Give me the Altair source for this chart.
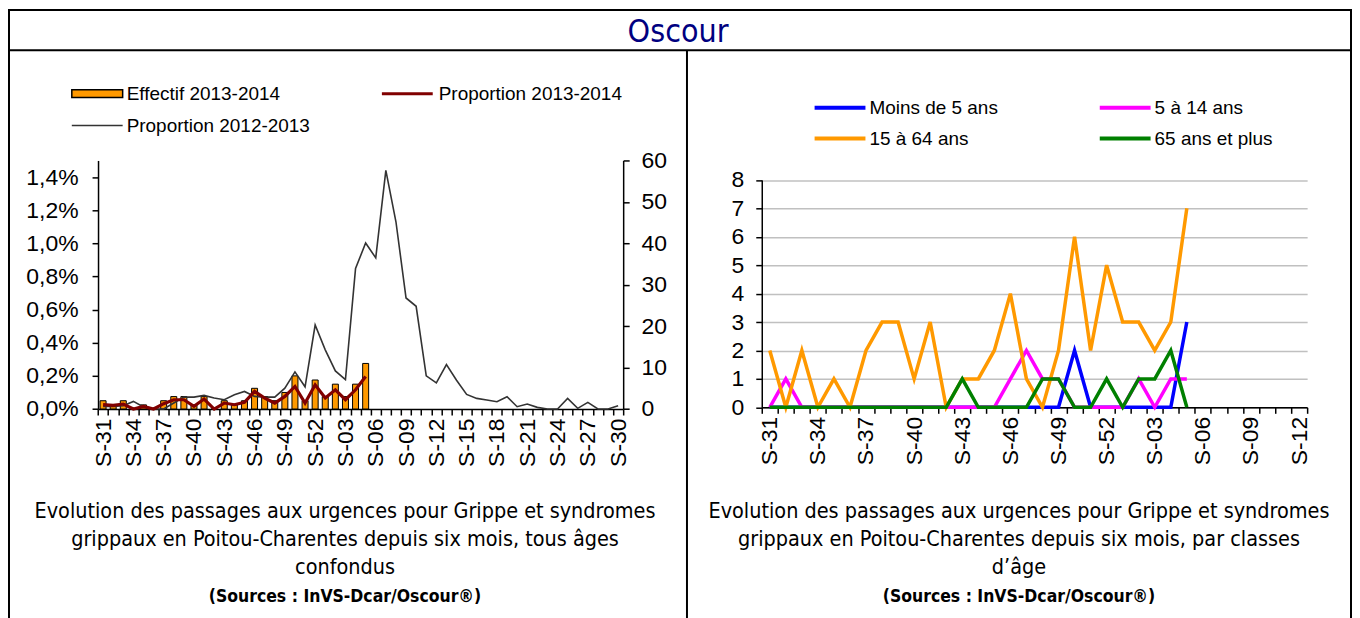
import json
import altair as alt
import pandas as pd

# ---------------- data ----------------
weeks_left = ["S-%02d" % w for w in list(range(31, 53)) + list(range(1, 31))]
weeks_right = ["S-%02d" % w for w in list(range(31, 53)) + list(range(1, 13))]
tick_labels_left = weeks_left[::3]
tick_labels_right = weeks_right[::3]

effectif_2013_2014 = [2, 1, 2, 0, 1, 0, 2, 3, 3, 1, 3, 0, 2, 1, 2, 5, 3, 2, 4, 8, 2, 7, 3, 6, 3, 6, 11]
# proportions in percent
proportion_2013_2014 = [0.026, 0.022, 0.03, 0.0, 0.016, 0.0, 0.032, 0.056, 0.056, 0.016, 0.06, 0.0, 0.036,
                        0.026, 0.04, 0.106, 0.066, 0.036, 0.076, 0.136, 0.036, 0.146, 0.066, 0.116, 0.056,
                        0.116, 0.196]
proportion_2012_2013 = [0.016, 0.016, 0.02, 0.046, 0.012, 0.0, 0.0, 0.036, 0.072, 0.072,
                        0.082, 0.066, 0.056, 0.086, 0.106, 0.076, 0.072, 0.072, 0.126, 0.224,
                        0.134, 0.507, 0.357, 0.23, 0.178, 0.848, 1.002, 0.912, 1.44, 1.13,
                        0.67, 0.62, 0.2, 0.158, 0.268, 0.174, 0.088, 0.064, 0.054, 0.044,
                        0.074, 0.014, 0.03, 0.01, 0.0, 0.0, 0.064, 0.004, 0.04, 0.0,
                        0.0, 0.02]

age_classes = ["Moins de 5 ans", "5 à 14 ans", "15 à 64 ans", "65 ans et plus"]
age_colors = ["#0000FF", "#FF00FF", "#FF9900", "#008000"]
moins_5_ans = [0, 0, 0, 0, 0, 0, 0, 0, 0, 0, 0, 0, 0, 0, 0, 0, 0, 0, 0, 2, 0, 0, 0, 0, 0, 0, 3]
de_5_a_14_ans = [0, 1, 0, 0, 0, 0, 0, 0, 0, 0, 0, 0, 0, 0, 0, 1, 2, 1, 1, 0, 0, 0, 0, 1, 0, 1, 1]
de_15_a_64_ans = [2, 0, 2, 0, 1, 0, 2, 3, 3, 1, 3, 0, 1, 1, 2, 4, 1, 0, 2, 6, 2, 5, 3, 3, 2, 3, 7]
plus_65_ans = [0, 0, 0, 0, 0, 0, 0, 0, 0, 0, 0, 0, 1, 0, 0, 0, 0, 1, 1, 0, 0, 1, 0, 1, 1, 2, 0]

pct_ticks = [0, 0.002, 0.004, 0.006, 0.008, 0.010, 0.012, 0.014]
count_ticks = [0, 10, 20, 30, 40, 50, 60]
age_ticks = [0, 1, 2, 3, 4, 5, 6, 7, 8]

title_text = "Oscour"
caption_left = ["Evolution des passages aux urgences pour Grippe et syndromes",
                "grippaux  en Poitou-Charentes depuis six mois, tous âges",
                "confondus"]
caption_right = ["Evolution des passages aux urgences pour Grippe et syndromes",
                 "grippaux  en Poitou-Charentes depuis six mois, par classes",
                 "d\u2019âge"]
sources = "(Sources : InVS-Dcar/Oscour\u00ae)"

# ---------------- tables ----------------
n = len(effectif_2013_2014)
df_bar = pd.DataFrame({"semaine": weeks_left[:n], "valeur": effectif_2013_2014,
                       "serie": "Effectif 2013-2014"})
df_red = pd.DataFrame({"semaine": weeks_left[:n], "valeur": [v / 100 for v in proportion_2013_2014],
                       "serie": "Proportion 2013-2014"})
df_gray = pd.DataFrame({"semaine": weeks_left, "valeur": [v / 100 for v in proportion_2012_2013],
                        "serie": "Proportion 2012-2013"})
frames = []
for name, vals in zip(age_classes, [moins_5_ans, de_5_a_14_ans, de_15_a_64_ans, plus_65_ans]):
    frames.append(pd.DataFrame({"semaine": weeks_right[:len(vals)], "valeur": vals, "classe": name}))
df_age = pd.concat(frames, ignore_index=True)

# ---------------- layout ----------------
W, H = 1348, 610
AX_FONT = "Liberation Sans, Arial, sans-serif"
COND_FONT = "DejaVu Sans Condensed, Liberation Sans Narrow, Roboto, sans-serif"
XL = [90.3, 617]
YL = [401.3, 152]
XR = [756, 1303]
YR = [399.6, 171.5]


def label_expr(ticks):
    return "indexof(%s, datum.value) >= 0 ? datum.value : ''" % json.dumps(ticks)


def xscale(domain, rng):
    return alt.Scale(type="band", domain=domain, range=rng, paddingInner=0, paddingOuter=0)


x_axis_left = alt.Axis(orient="bottom", offset=YL[0] - H, labelAngle=270, labelExpr=label_expr(tick_labels_left),
                       labelOverlap=False, tickBand="extent", tickSize=6, labelPadding=3, title=None, grid=False)
x_axis_right = alt.Axis(orient="bottom", offset=YR[0] - H, labelAngle=270, labelExpr=label_expr(tick_labels_right),
                        labelOverlap=False, tickBand="extent", tickSize=6, labelPadding=3, title=None, grid=False)

bars = alt.Chart(df_bar).mark_bar(size=6, stroke="black", strokeWidth=1).encode(
    x=alt.X("semaine:N", scale=xscale(weeks_left, XL), axis=x_axis_left),
    y=alt.Y("valeur:Q", scale=alt.Scale(domain=[0, 60], range=YL),
            axis=alt.Axis(orient="right", offset=XL[1] - W, values=count_ticks, tickSize=6,
                          labelPadding=12, title=None, grid=False)),
    color=alt.Color("serie:N", scale=alt.Scale(domain=["Effectif 2013-2014"], range=["#FF9900"]),
                    legend=alt.Legend(title=None, orient="none", legendX=80, legendY=75.5,
                                      symbolType="M-3,-0.45H3V0.45H-3Z", symbolSize=289,
                                      symbolStrokeWidth=1.5, symbolStrokeColor="black",
                                      labelOffset=20, labelLimit=400, padding=0)),
)

gray = alt.Chart(df_gray).mark_line(strokeWidth=1.6).encode(
    x=alt.X("semaine:N", scale=xscale(weeks_left, XL), axis=None, bandPosition=0.5),
    y=alt.Y("valeur:Q", scale=alt.Scale(domain=[0, 0.015], range=YL), axis=None),
    color=alt.Color("serie:N", scale=alt.Scale(domain=["Proportion 2012-2013"], range=["#333333"]),
                    legend=alt.Legend(title=None, orient="none", legendX=80, legendY=107.5,
                                      symbolType="M-3,0H3", symbolSize=289, symbolStrokeWidth=1.5,
                                      labelOffset=20, labelLimit=400, padding=0)),
)

red = alt.Chart(df_red).mark_line(strokeWidth=3.2).encode(
    x=alt.X("semaine:N", scale=xscale(weeks_left, XL), axis=None, bandPosition=0.5),
    y=alt.Y("valeur:Q", scale=alt.Scale(domain=[0, 0.015], range=YL),
            axis=alt.Axis(orient="left", offset=-XL[0], values=pct_ticks, tickSize=6, labelPadding=14,
                          labelExpr="replace(format(datum.value, '.1%'), '.', ',')", title=None,
                          grid=False)),
    color=alt.Color("serie:N", scale=alt.Scale(domain=["Proportion 2013-2014"], range=["#800000"]),
                    legend=alt.Legend(title=None, orient="none", legendX=390.5, legendY=75,
                                      symbolType="M-3,0H3", symbolSize=289, symbolStrokeWidth=3,
                                      labelOffset=21.5, labelLimit=400, padding=0)),
)

ages = alt.Chart(df_age).mark_line(strokeWidth=3.5).encode(
    x=alt.X("semaine:N", scale=xscale(weeks_right, XR), axis=x_axis_right, bandPosition=0.5),
    y=alt.Y("valeur:Q", scale=alt.Scale(domain=[0, 8], range=YR),
            axis=alt.Axis(orient="left", offset=-XR[0], values=age_ticks, tickSize=6, labelPadding=12,
                          title=None, grid=True, gridColor="#C0C0C0", gridWidth=1.5)),
    color=alt.Color("classe:N", scale=alt.Scale(domain=age_classes, range=age_colors),
                    legend=alt.Legend(title=None, orient="none", legendX=824, legendY=88.5, columns=2,
                                      direction="horizontal",
                                      symbolType="M-3,0H3", symbolSize=289, symbolStrokeWidth=4,
                                      labelOffset=19, labelLimit=400, rowPadding=10, columnPadding=94,
                                      padding=0)),
)

one = alt.Data(values=[{}])
frame = alt.Chart(one).mark_rect(fill="transparent", stroke="black", strokeWidth=2).encode(
    x=alt.value(1), x2=alt.value(W - 1), y=alt.value(1), y2=alt.value(H + 20))
title_rule = alt.Chart(one).mark_rule(color="black", strokeWidth=2).encode(
    x=alt.value(0), x2=alt.value(W), y=alt.value(41.5))
divider = alt.Chart(one).mark_rule(color="black", strokeWidth=2).encode(
    x=alt.value(681), y=alt.value(41.5), y2=alt.value(H + 5))
title_mark = alt.Chart(one).mark_text(text=title_text, font=COND_FONT, fontSize=32, color="#000080",
                                      align="center", baseline="alphabetic").encode(
    x=alt.value(672), y=alt.value(33))
cap_l = alt.Chart(one).mark_text(text=caption_left, font=COND_FONT, fontSize=21.5, lineHeight=28.2,
                                 align="center", baseline="alphabetic", color="black").encode(
    x=alt.value(338), y=alt.value(510.3))
cap_r = alt.Chart(one).mark_text(text=caption_right, font=COND_FONT, fontSize=21.5, lineHeight=28.2,
                                 align="center", baseline="alphabetic", color="black").encode(
    x=alt.value(1014), y=alt.value(510.3))
src_l = alt.Chart(one).mark_text(text=sources, font=COND_FONT, fontSize=17.5, fontWeight="bold",
                                 align="center", baseline="alphabetic", color="black").encode(
    x=alt.value(338), y=alt.value(594.7))
src_r = alt.Chart(one).mark_text(text=sources, font=COND_FONT, fontSize=17.5, fontWeight="bold",
                                 align="center", baseline="alphabetic", color="black").encode(
    x=alt.value(1014), y=alt.value(594.7))

chart = alt.layer(
    frame, title_rule, divider, title_mark,
    bars, gray, red, ages,
    cap_l, cap_r, src_l, src_r,
).resolve_scale(
    x="independent", y="independent", color="independent"
).properties(
    width=W, height=H, padding=0, autosize=alt.AutoSizeParams(type="none"), background="white"
).configure_view(
    strokeWidth=0
).configure_axis(
    labelFont=AX_FONT, labelFontSize=23, labelColor="black", domainColor="black", tickColor="black",
    domainWidth=1.5, tickWidth=1.5
).configure_legend(
    labelFont=AX_FONT, labelFontSize=19, labelColor="black"
)

chart.save("out.html", embed_options={"renderer": "svg", "actions": False})
